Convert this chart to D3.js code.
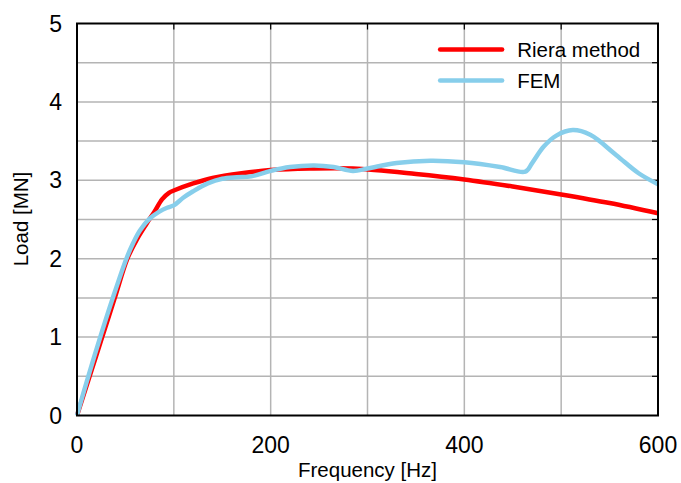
<!DOCTYPE html>
<html>
<head>
<meta charset="utf-8">
<script src="https://cdn.jsdelivr.net/npm/d3@7"></script>
<style>
  body { margin: 0; background: #fff; }
  text { font-family: "Liberation Sans", Arial, sans-serif; }
</style>
</head>
<body>
<svg id="chart"></svg>
<script>
const W = 681
const H = 483
const margin = { top: 23.5, left: 77, right: 23, bottom: 67.5 }
const width = W - margin.left - margin.right
const height = H - margin.top - margin.bottom

// Riera method, [Hz, MN]
const rieraFreq = [0, 13, 26, 39, 52, 62, 72, 80, 88, 95, 100, 120, 140, 170, 200, 240, 285, 350, 400, 450, 500, 550, 600]
const rieraLoad = [0, 0.5, 1.0, 1.5, 2.0, 2.25, 2.45, 2.6, 2.76, 2.84, 2.87, 2.96, 3.03, 3.09, 3.13, 3.15, 3.15, 3.08, 3.01, 2.92, 2.82, 2.71, 2.58]

// FEM
const femFreq = [0, 10, 24, 37, 51, 58, 65, 75, 85, 93, 100, 110, 120, 135, 150, 165, 180, 200, 220, 245, 265, 285, 300, 330, 365, 400, 437, 463, 470, 482, 495, 512, 530, 557, 580, 600]
const femLoad = [0, 0.43, 1.0, 1.5, 2.0, 2.2, 2.36, 2.51, 2.6, 2.65, 2.68, 2.78, 2.86, 2.96, 3.02, 3.04, 3.05, 3.12, 3.17, 3.19, 3.17, 3.12, 3.15, 3.22, 3.25, 3.23, 3.17, 3.11, 3.22, 3.43, 3.57, 3.64, 3.58, 3.32, 3.09, 2.95]

const xTicks = [0, 200, 400, 600]
const yTicks = [0, 1, 2, 3, 4, 5]
const xGrid = [100, 200, 300, 400, 500]
const yGrid = [0.5, 1, 1.5, 2, 2.5, 3, 3.5, 4, 4.5]

const series = [
  { name: 'Riera method', color: '#ff0000', freq: rieraFreq, load: rieraLoad },
  { name: 'FEM', color: '#87ceeb', freq: femFreq, load: femLoad }
]

const svg = d3.select('#chart').attr('width', W).attr('height', H)
const g = svg.append('g').attr('transform', `translate(${margin.left},${margin.top})`)

const x = d3.scaleLinear().domain([0, 600]).range([0, width])
const y = d3.scaleLinear().domain([0, 5]).range([height, 0])

// grid
g.selectAll('.gx').data(xGrid).enter().append('line')
  .attr('x1', d => x(d)).attr('x2', d => x(d))
  .attr('y1', 0).attr('y2', height)
  .attr('stroke', '#b4b4b4').attr('stroke-width', 1.5)
g.selectAll('.gy').data(yGrid).enter().append('line')
  .attr('x1', 0).attr('x2', width)
  .attr('y1', d => y(d)).attr('y2', d => y(d))
  .attr('stroke', '#b4b4b4').attr('stroke-width', 1.5)

// inward ticks on the mirrored sides
g.selectAll('.tt').data(xGrid).enter().append('line')
  .attr('x1', d => x(d)).attr('x2', d => x(d))
  .attr('y1', 0).attr('y2', 6)
  .attr('stroke', '#000').attr('stroke-width', 1.2)
g.selectAll('.tr').data(yGrid).enter().append('line')
  .attr('x1', width - 6).attr('x2', width)
  .attr('y1', d => y(d)).attr('y2', d => y(d))
  .attr('stroke', '#000').attr('stroke-width', 1.2)

// lines
const line = d3.line()
  .x(d => x(d[0]))
  .y(d => y(d[1]))
  .curve(d3.curveCatmullRom.alpha(0.5))

series.forEach(s => {
  g.append('path')
    .datum(d3.zip(s.freq, s.load))
    .attr('d', line)
    .attr('fill', 'none')
    .attr('stroke', s.color)
    .attr('stroke-width', 4.5)
    .attr('stroke-linejoin', 'round')
})

// frame
g.append('rect')
  .attr('width', width).attr('height', height)
  .attr('fill', 'none').attr('stroke', '#000').attr('stroke-width', 2)

// tick labels
g.selectAll('.xl').data(xTicks).enter().append('text')
  .attr('x', d => x(d)).attr('y', height + 37.5)
  .attr('text-anchor', 'middle')
  .attr('font-size', 23)
  .text(d => d)
g.selectAll('.yl').data(yTicks).enter().append('text')
  .attr('x', -15).attr('y', d => y(d) + 8)
  .attr('text-anchor', 'end')
  .attr('font-size', 23)
  .text(d => d)

// axis titles
svg.append('text')
  .attr('x', margin.left + width / 2).attr('y', 477)
  .attr('text-anchor', 'middle')
  .attr('font-size', 20.5)
  .text('Frequency [Hz]')
svg.append('text')
  .attr('transform', `translate(28,219) rotate(-90)`)
  .attr('text-anchor', 'middle')
  .attr('font-size', 20.5)
  .text('Load [MN]')

// legend
const legend = g.append('g').attr('transform', `translate(${x(375)},${26})`)
series.forEach((s, i) => {
  const row = legend.append('g').attr('transform', `translate(0,${i * 31})`)
  row.append('line')
    .attr('x1', 0).attr('x2', 62)
    .attr('stroke', s.color).attr('stroke-width', 4.5)
    .attr('stroke-linecap', 'round')
  row.append('text')
    .attr('x', 77).attr('y', 7.5)
    .attr('font-size', 20.5)
    .text(s.name)
})
</script>
</body>
</html>
